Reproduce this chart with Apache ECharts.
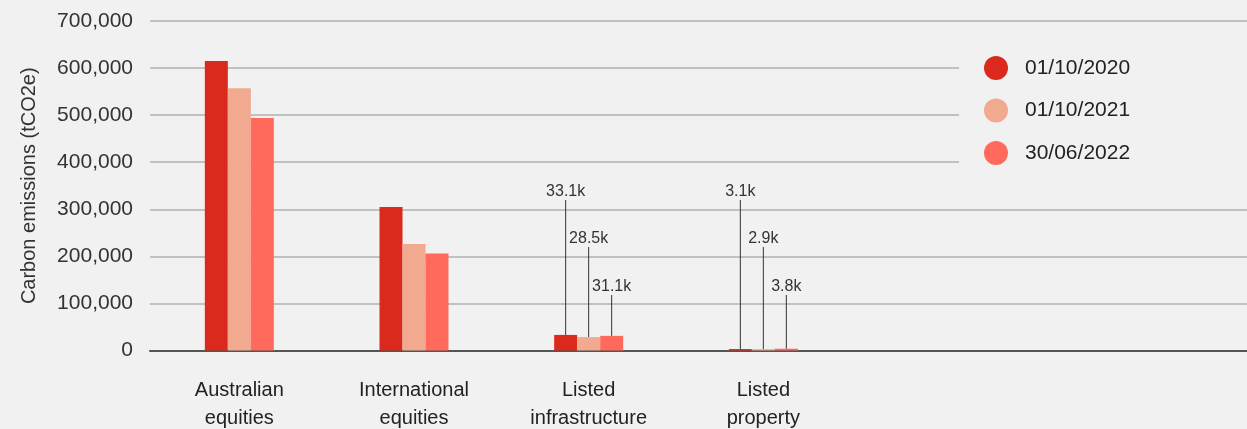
<!DOCTYPE html>
<html>
<head>
<meta charset="utf-8">
<script src="https://cdn.jsdelivr.net/npm/echarts@6/dist/echarts.min.js"></script>
<style>
  html, body { margin: 0; padding: 0; background: #f1f1f1; }
  #chart { width: 1247px; height: 429px; }
</style>
</head>
<body>
<div id="chart"></div>
<script>
// categories (two empty slots keep the bar spacing of the original)
var categories = ['Australian\nequities', 'International\nequities', 'Listed\ninfrastructure', 'Listed\nproperty', '', ''];
var seriesNames = ['01/10/2020', '01/10/2021', '30/06/2022'];
var seriesColors = ['#dc291e', '#f1a98f', '#ff6a5c'];
// tCO2e
var values2020 = [615000, 305000, 33100, 3100];
var values2021 = [557000, 226000, 28500, 2900];
var values2022 = [494000, 206000, 31100, 3800];
var yTicks = [0, 100000, 200000, 300000, 400000, 500000, 600000, 700000];

var FONT = '"Liberation Sans", Arial, sans-serif';
// fixed height of the call-out labels, one per series
var labelBottoms = [208, 255, 303];

function buildData(vals) {
    return vals.map(function (v) {
        // only the small bars get a call-out label
        if (v < 50000) {
            return { value: v, label: { show: true } };
        }
        return v;
    });
}

function makeSeries(i, vals) {
    return {
        name: seriesNames[i],
        type: 'bar',
        xAxisIndex: 1,
        yAxisIndex: 1,
        barWidth: 23,
        barGap: '0%',
        itemStyle: { color: seriesColors[i] },
        data: buildData(vals),
        label: {
            show: false,
            position: 'top',
            color: '#333',
            fontFamily: FONT,
            fontSize: 16,
            padding: [0, 0, 8, 0],
            formatter: function (p) {
                return (p.value / 1000).toFixed(1) + 'k';
            }
        },
        labelLine: {
            show: true,
            lineStyle: { color: '#333', width: 1 }
        },
        labelLayout: function (params) {
            return {
                x: params.rect.x + params.rect.width / 2,
                y: labelBottoms[i],
                align: 'center',
                verticalAlign: 'bottom'
            };
        }
    };
}

var chart = echarts.init(document.getElementById('chart'));
chart.setOption({
    backgroundColor: '#f1f1f1',
    animation: false,
    color: seriesColors,
    grid: [
        { left: 150, right: 0, top: 21, bottom: 78.5, outerBoundsMode: 'none', containLabel: false },
        { left: 152, right: 47, top: 21, bottom: 78.5, outerBoundsMode: 'none', containLabel: false }
    ],
    legend: {
        orient: 'vertical',
        left: 959,
        top: 45,
        padding: [11, 300, 15, 25],
        backgroundColor: '#f1f1f1',
        itemWidth: 24,
        itemHeight: 24,
        itemGap: 18.5,
        icon: 'circle',
        data: seriesNames,
        textStyle: {
            color: '#222',
            fontFamily: FONT,
            fontSize: 21,
            padding: [0, 0, 0, 12]
        }
    },
    xAxis: [
        {
            // full-width baseline
            type: 'category',
            gridIndex: 0,
            data: [''],
            axisLine: { show: true, lineStyle: { color: '#555', width: 2 } },
            axisTick: { show: false },
            axisLabel: { show: false }
        },
        {
            type: 'category',
            gridIndex: 1,
            data: categories,
            axisLine: { show: false },
            axisTick: { show: false },
            axisLabel: {
                color: '#222',
                fontFamily: FONT,
                fontSize: 20,
                lineHeight: 28,
                margin: 26,
                interval: 0
            }
        }
    ],
    yAxis: [
        {
            type: 'value',
            gridIndex: 0,
            min: yTicks[0],
            max: yTicks[yTicks.length - 1],
            interval: 100000,
            name: 'Carbon emissions (tCO2e)',
            nameLocation: 'middle',
            nameGap: 111,
            nameTextStyle: { color: '#333', fontFamily: FONT, fontSize: 20 },
            axisLine: { show: false },
            axisTick: { show: false },
            axisLabel: {
                color: '#333',
                fontFamily: FONT,
                fontSize: 21,
                margin: 17,
                formatter: function (v) {
                    return v.toLocaleString('en-US');
                }
            },
            splitLine: { lineStyle: { color: '#b0b0b0', width: 1.5 } }
        },
        {
            type: 'value',
            gridIndex: 1,
            min: yTicks[0],
            max: yTicks[yTicks.length - 1],
            interval: 100000,
            show: false,
            splitLine: { show: false }
        }
    ],
    series: [
        makeSeries(0, values2020),
        makeSeries(1, values2021),
        makeSeries(2, values2022)
    ]
});
</script>
</body>
</html>
